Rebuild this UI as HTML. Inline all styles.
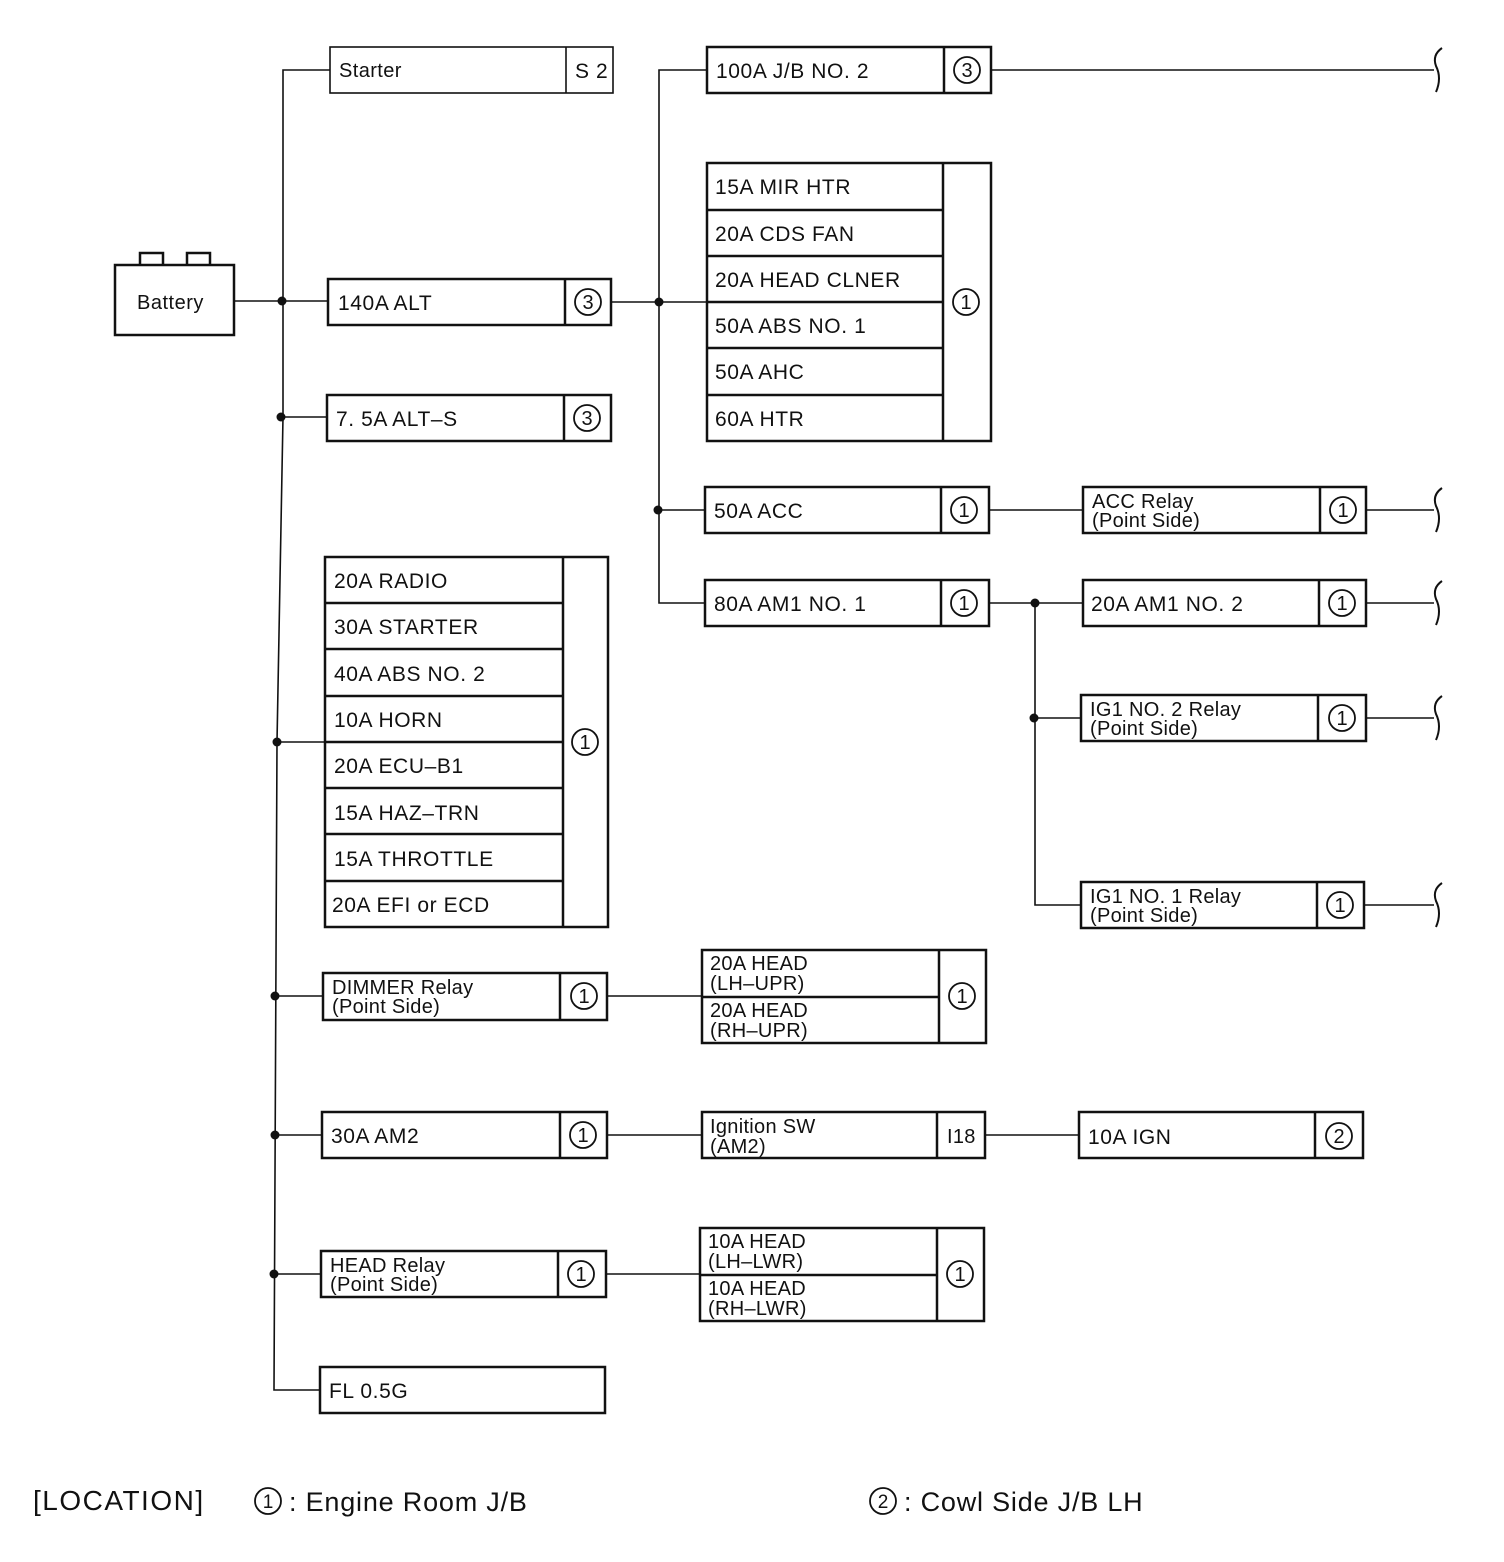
<!DOCTYPE html>
<html><head><meta charset="utf-8"><style>
html,body{margin:0;padding:0;background:#fff;}
svg{display:block;}
text{font-family:"Liberation Sans",sans-serif;fill:#111;}
.b{fill:none;stroke:#111;stroke-width:2.5;}
.l{fill:none;stroke:#111;stroke-width:1.6;}
.c{fill:none;stroke:#111;stroke-width:1.8;}
.t{font-size:21px;letter-spacing:0.6px;}
.t2{font-size:20px;letter-spacing:0.3px;}
.n{font-size:20px;text-anchor:middle;}
</style></head><body>
<svg width="1504" height="1562" viewBox="0 0 1504 1562" xmlns="http://www.w3.org/2000/svg">
<!-- Battery -->
<rect class="b" x="115" y="265" width="119" height="70"/>
<path class="b" d="M140 265 V253 H163 V265 M187 265 V253 H210 V265"/>
<text class="t" x="137" y="309" style="font-size:20px;letter-spacing:0.5px">Battery</text>
<line class="l" x1="234" y1="301" x2="328" y2="301"/>
<!-- main bus -->
<path class="l" d="M330 70 H283 V417 L277 742 L274 1390 H320"/>
<circle cx="282" cy="301" r="4.5" fill="#111"/>
<circle cx="281" cy="417" r="4.5" fill="#111"/>
<circle cx="277" cy="742" r="4.5" fill="#111"/>
<circle cx="275" cy="996" r="4.5" fill="#111"/>
<circle cx="275" cy="1135" r="4.5" fill="#111"/>
<circle cx="274" cy="1274" r="4.5" fill="#111"/>
<line class="l" x1="281" y1="417" x2="327" y2="417"/>
<line class="l" x1="277" y1="742" x2="325" y2="742"/>
<line class="l" x1="275" y1="996" x2="323" y2="996"/>
<line class="l" x1="275" y1="1135" x2="322" y2="1135"/>
<line class="l" x1="274" y1="1274" x2="321" y2="1274"/>

<!-- Starter -->
<rect class="b" x="330" y="47" width="283" height="46" style="stroke-width:1.6"/>
<line class="l" x1="566" y1="47" x2="566" y2="93"/>
<text class="t" x="339" y="77" style="font-size:20px;letter-spacing:0.4px">Starter</text>
<text class="t" x="575" y="78">S 2</text>

<!-- 140A ALT -->
<rect class="b" x="328" y="279" width="283" height="46"/>
<line class="b" x1="565" y1="279" x2="565" y2="325"/>
<text class="t" x="338" y="310">140A ALT</text>
<circle class="c" cx="588" cy="302" r="13"/><text class="n" x="588" y="309">3</text>
<line class="l" x1="611" y1="302" x2="707" y2="302"/>

<!-- 7.5A ALT-S -->
<rect class="b" x="327" y="395" width="284" height="46"/>
<line class="b" x1="564" y1="395" x2="564" y2="441"/>
<text class="t" x="336" y="426">7. 5A ALT–S</text>
<circle class="c" cx="587" cy="418" r="13"/><text class="n" x="587" y="425">3</text>

<!-- big left group -->
<rect class="b" x="325" y="557" width="283" height="370"/>
<line class="b" x1="563" y1="557" x2="563" y2="927"/>
<g class="b">
<line x1="325" y1="603" x2="563" y2="603"/><line x1="325" y1="649" x2="563" y2="649"/>
<line x1="325" y1="696" x2="563" y2="696"/><line x1="325" y1="742" x2="563" y2="742"/>
<line x1="325" y1="788" x2="563" y2="788"/><line x1="325" y1="834" x2="563" y2="834"/>
<line x1="325" y1="881" x2="563" y2="881"/>
</g>
<text class="t" x="334" y="588">20A RADIO</text>
<text class="t" x="334" y="634">30A STARTER</text>
<text class="t" x="334" y="681">40A ABS NO. 2</text>
<text class="t" x="334" y="727">10A HORN</text>
<text class="t" x="334" y="773">20A ECU–B1</text>
<text class="t" x="334" y="820">15A HAZ–TRN</text>
<text class="t" x="334" y="866">15A THROTTLE</text>
<text class="t" x="332" y="912">20A EFI or ECD</text>
<circle class="c" cx="585" cy="742" r="13"/><text class="n" x="585" y="749">1</text>

<!-- DIMMER -->
<rect class="b" x="323" y="973" width="284" height="47"/>
<line class="b" x1="560" y1="973" x2="560" y2="1020"/>
<text class="t2" x="332" y="994">DIMMER Relay</text>
<text class="t2" x="332" y="1013">(Point Side)</text>
<circle class="c" cx="584" cy="996" r="13"/><text class="n" x="584" y="1003">1</text>
<line class="l" x1="607" y1="996" x2="702" y2="996"/>

<!-- 30A AM2 -->
<rect class="b" x="322" y="1112" width="285" height="46"/>
<line class="b" x1="560" y1="1112" x2="560" y2="1158"/>
<text class="t" x="331" y="1143">30A AM2</text>
<circle class="c" cx="583" cy="1135" r="13"/><text class="n" x="583" y="1142">1</text>
<line class="l" x1="607" y1="1135" x2="702" y2="1135"/>

<!-- HEAD Relay -->
<rect class="b" x="321" y="1251" width="285" height="46"/>
<line class="b" x1="558" y1="1251" x2="558" y2="1297"/>
<text class="t2" x="330" y="1272">HEAD Relay</text>
<text class="t2" x="330" y="1291">(Point Side)</text>
<circle class="c" cx="581" cy="1274" r="13"/><text class="n" x="581" y="1281">1</text>
<line class="l" x1="606" y1="1274" x2="700" y2="1274"/>

<!-- FL -->
<rect class="b" x="320" y="1367" width="285" height="46"/>
<text class="t" x="329" y="1398">FL 0.5G</text>

<!-- second bus -->
<path class="l" d="M707 70 H659 V603 H705"/>
<circle cx="659" cy="302" r="4.5" fill="#111"/>
<circle cx="658" cy="510" r="4.5" fill="#111"/>
<line class="l" x1="658" y1="510" x2="705" y2="510"/>

<!-- 100A J/B NO.2 -->
<rect class="b" x="707" y="47" width="284" height="46"/>
<line class="b" x1="944" y1="47" x2="944" y2="93"/>
<text class="t" x="716" y="78">100A J/B NO. 2</text>
<circle class="c" cx="967" cy="70" r="13"/><text class="n" x="967" y="77">3</text>
<line class="l" x1="991" y1="70" x2="1434" y2="70"/>

<!-- right group -->
<rect class="b" x="707" y="163" width="284" height="278"/>
<line class="b" x1="943" y1="163" x2="943" y2="441"/>
<g class="b">
<line x1="707" y1="210" x2="943" y2="210"/><line x1="707" y1="256" x2="943" y2="256"/>
<line x1="707" y1="302" x2="943" y2="302"/><line x1="707" y1="348" x2="943" y2="348"/>
<line x1="707" y1="395" x2="943" y2="395"/>
</g>
<text class="t" x="715" y="194">15A MIR HTR</text>
<text class="t" x="715" y="241">20A CDS FAN</text>
<text class="t" x="715" y="287">20A HEAD CLNER</text>
<text class="t" x="715" y="333">50A ABS NO. 1</text>
<text class="t" x="715" y="379">50A AHC</text>
<text class="t" x="715" y="426">60A HTR</text>
<circle class="c" cx="966" cy="302" r="13"/><text class="n" x="966" y="309">1</text>

<!-- 50A ACC -->
<rect class="b" x="705" y="487" width="284" height="46"/>
<line class="b" x1="941" y1="487" x2="941" y2="533"/>
<text class="t" x="714" y="518">50A ACC</text>
<circle class="c" cx="964" cy="510" r="13"/><text class="n" x="964" y="517">1</text>
<line class="l" x1="989" y1="510" x2="1083" y2="510"/>
<rect class="b" x="1083" y="487" width="283" height="46"/>
<line class="b" x1="1320" y1="487" x2="1320" y2="533"/>
<text class="t2" x="1092" y="508">ACC Relay</text>
<text class="t2" x="1092" y="527">(Point Side)</text>
<circle class="c" cx="1343" cy="510" r="13"/><text class="n" x="1343" y="517">1</text>
<line class="l" x1="1366" y1="510" x2="1434" y2="510"/>

<!-- 80A AM1 -->
<rect class="b" x="705" y="580" width="284" height="46"/>
<line class="b" x1="941" y1="580" x2="941" y2="626"/>
<text class="t" x="714" y="611">80A AM1 NO. 1</text>
<circle class="c" cx="964" cy="603" r="13"/><text class="n" x="964" y="610">1</text>
<line class="l" x1="989" y1="603" x2="1083" y2="603"/>
<circle cx="1035" cy="603" r="4.5" fill="#111"/>
<circle cx="1034" cy="718" r="4.5" fill="#111"/>
<path class="l" d="M1035 603 V905 H1081 M1034 718 H1081"/>

<rect class="b" x="1083" y="580" width="283" height="46"/>
<line class="b" x1="1319" y1="580" x2="1319" y2="626"/>
<text class="t" x="1091" y="611">20A AM1 NO. 2</text>
<circle class="c" cx="1342" cy="603" r="13"/><text class="n" x="1342" y="610">1</text>
<line class="l" x1="1366" y1="603" x2="1434" y2="603"/>

<rect class="b" x="1081" y="695" width="285" height="46"/>
<line class="b" x1="1318" y1="695" x2="1318" y2="741"/>
<text class="t2" x="1090" y="716">IG1 NO. 2 Relay</text>
<text class="t2" x="1090" y="735">(Point Side)</text>
<circle class="c" cx="1342" cy="718" r="13"/><text class="n" x="1342" y="725">1</text>
<line class="l" x1="1366" y1="718" x2="1434" y2="718"/>

<rect class="b" x="1081" y="882" width="283" height="46"/>
<line class="b" x1="1317" y1="882" x2="1317" y2="928"/>
<text class="t2" x="1090" y="903">IG1 NO. 1 Relay</text>
<text class="t2" x="1090" y="922">(Point Side)</text>
<circle class="c" cx="1340" cy="905" r="13"/><text class="n" x="1340" y="912">1</text>
<line class="l" x1="1364" y1="905" x2="1434" y2="905"/>

<!-- squiggles -->
<g class="l" style="stroke-width:2">
<path d="M1442 48 Q1432 55 1436 66 Q1442 78 1436 92"/>
<path d="M1442 488 Q1432 495 1436 506 Q1442 518 1436 532"/>
<path d="M1442 581 Q1432 588 1436 599 Q1442 611 1436 625"/>
<path d="M1442 696 Q1432 703 1436 714 Q1442 726 1436 740"/>
<path d="M1442 883 Q1432 890 1436 901 Q1442 913 1436 927"/>
</g>

<!-- HEAD UPR -->
<rect class="b" x="702" y="950" width="284" height="93"/>
<line class="b" x1="939" y1="950" x2="939" y2="1043"/>
<line class="b" x1="702" y1="997" x2="939" y2="997"/>
<text class="t2" x="710" y="970">20A HEAD</text>
<text class="t2" x="710" y="990">(LH–UPR)</text>
<text class="t2" x="710" y="1017">20A HEAD</text>
<text class="t2" x="710" y="1037">(RH–UPR)</text>
<circle class="c" cx="962" cy="996" r="13"/><text class="n" x="962" y="1003">1</text>

<!-- Ignition SW -->
<rect class="b" x="702" y="1112" width="283" height="46"/>
<line class="b" x1="937" y1="1112" x2="937" y2="1158"/>
<text class="t2" x="710" y="1133">Ignition SW</text>
<text class="t2" x="710" y="1153">(AM2)</text>
<text class="t2" x="947" y="1143">I18</text>
<line class="l" x1="985" y1="1135" x2="1079" y2="1135"/>
<rect class="b" x="1079" y="1112" width="284" height="46"/>
<line class="b" x1="1315" y1="1112" x2="1315" y2="1158"/>
<text class="t" x="1088" y="1144">10A IGN</text>
<circle class="c" cx="1339" cy="1136" r="13"/><text class="n" x="1339" y="1143">2</text>

<!-- HEAD LWR -->
<rect class="b" x="700" y="1228" width="284" height="93"/>
<line class="b" x1="937" y1="1228" x2="937" y2="1321"/>
<line class="b" x1="700" y1="1275" x2="937" y2="1275"/>
<text class="t2" x="708" y="1248">10A HEAD</text>
<text class="t2" x="708" y="1268">(LH–LWR)</text>
<text class="t2" x="708" y="1295">10A HEAD</text>
<text class="t2" x="708" y="1315">(RH–LWR)</text>
<circle class="c" cx="960" cy="1274" r="13"/><text class="n" x="960" y="1281">1</text>

<!-- legend -->
<text x="33" y="1510" style="font-size:28px;letter-spacing:1.5px">[LOCATION]</text>
<circle class="c" cx="268" cy="1501" r="13"/><text x="268" y="1508" style="font-size:19px;text-anchor:middle">1</text>
<text x="289" y="1511" style="font-size:27px;letter-spacing:0.8px">: Engine Room J/B</text>
<circle class="c" cx="883" cy="1501" r="13"/><text x="883" y="1508" style="font-size:19px;text-anchor:middle">2</text>
<text x="904" y="1511" style="font-size:27px;letter-spacing:0.8px">: Cowl Side J/B LH</text>
</svg>
</body></html>
